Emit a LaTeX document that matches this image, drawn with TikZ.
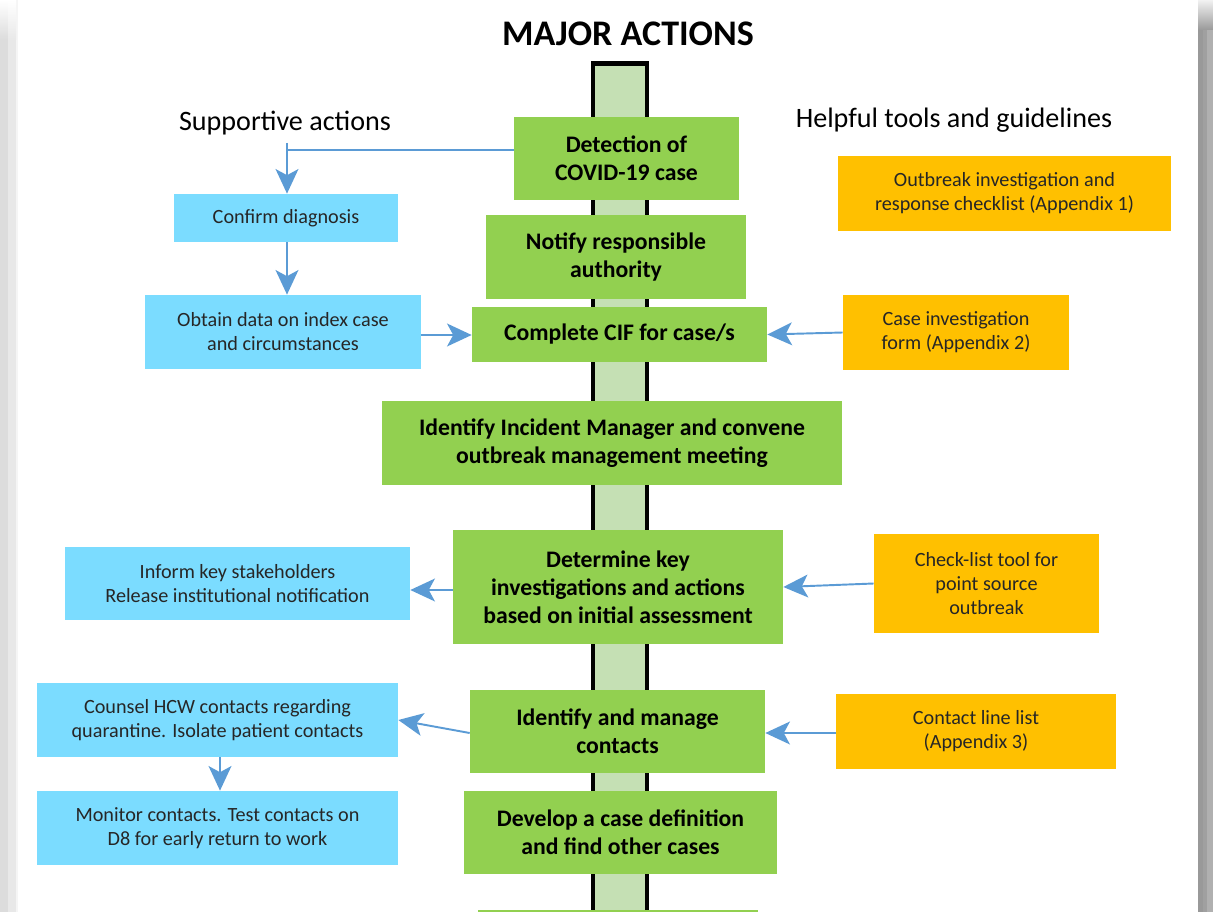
\documentclass[tikz,border=0pt]{standalone}
\usepackage{fontspec}
\setmainfont{Carlito}
\usetikzlibrary{arrows.meta,calc}
\definecolor{boxgreen}{HTML}{92D050}
\definecolor{boxblue}{HTML}{7BDCFF}
\definecolor{boxorange}{HTML}{FFC000}
\definecolor{spinefill}{HTML}{C5E0B4}
\definecolor{arrowblue}{HTML}{5B9BD5}
\definecolor{leftgray}{HTML}{DCDCDC}
\definecolor{rightgray}{HTML}{A0A0A0}
\begin{document}
\begin{tikzpicture}[x=0.02cm,y=-0.02cm,
  major/.style={fill=boxgreen, inner sep=0pt, align=center, text=black,
    font=\bfseries\fontsize{13.5}{16}\selectfont},
  support/.style={fill=boxblue, inner sep=0pt, align=center, text=black!85,
    font=\fontsize{11.5}{13.6}\selectfont},
  tool/.style={fill=boxorange, inner sep=0pt, align=center, text=black!85,
    font=\fontsize{11.5}{13.6}\selectfont},
  heading/.style={inner sep=0pt, text=black, font=\fontsize{16}{19}\selectfont},
  conn/.style={draw=arrowblue, line width=1.1pt,
    -{Stealth[length=14pt,width=13pt,inset=3.5pt]}},
  plainline/.style={draw=arrowblue, line width=1.1pt}
]
\useasboundingbox (0,0) rectangle (1213,912);
\clip (0,0) rectangle (1213,912);

% page side borders
\fill[leftgray] (0,0) rectangle (8,912);
\fill[gray!18] (8,0) rectangle (16,912);
\fill[gray!8] (16,0) rectangle (18,912);
\shade[top color=white, bottom color=leftgray] (0,0) rectangle (8,40);
\shade[top color=white, bottom color=gray!18] (8,0) rectangle (16,40);
\fill[gray!80] (1198,0) rectangle (1203,912);
\fill[rightgray] (1203,0) rectangle (1207,912);
\fill[gray!62] (1207,0) rectangle (1213,912);
\shade[top color=gray!10, bottom color=gray!80] (1198,0) rectangle (1213,30);

% spine
\fill[spinefill] (593,64) rectangle (647,912);
\draw[line width=2pt] (593,920) -- (593,64) -- (647,64) -- (647,920);
\fill[black] (591,61) rectangle (649,66.5);

% title and column headings
\node[heading, font=\bfseries\fontsize{20.5}{24}\selectfont] (title) at (628,34) {MAJOR ACTIONS};
\node[heading] (suplabel) at (285,123) {Supportive actions};
\node[heading] (toollabel) at (954,120) {Helpful tools and guidelines};

% major actions
\node[major, minimum width=4.5cm, minimum height=1.66cm] (detect) at (626.5,158.5) {Detection of\\COVID-19 case};
\node[major, minimum width=5.2cm, minimum height=1.68cm] (notify) at (616,257) {Notify responsible\\authority};
\node[major, minimum width=5.9cm, minimum height=1.1cm] (cif) at (619.5,334.5) {Complete CIF for case/s};
\node[major, minimum width=9.2cm, minimum height=1.68cm] (incident) at (612,443) {Identify Incident Manager and convene\\outbreak management meeting};
\node[major, minimum width=6.6cm, minimum height=2.28cm] (determine) at (618,587) {Determine key\\investigations and actions\\based on initial assessment};
\node[major, minimum width=5.9cm, minimum height=1.66cm] (contacts) at (617.5,731.5) {Identify and manage\\contacts};
\node[major, minimum width=6.26cm, minimum height=1.66cm] (develop) at (620.5,832.5) {Develop a case definition\\and find other cases};
\fill[boxgreen] (478,910) rectangle (758,912);

% supportive actions
\node[support, minimum width=4.48cm, minimum height=0.96cm] (confirm) at (286,218) {Confirm diagnosis};
\node[support, minimum width=5.52cm, minimum height=1.48cm] (obtain) at (283,332) {Obtain data on index case\\and circumstances};
\node[support, minimum width=6.9cm, minimum height=1.46cm] (inform) at (237.5,583.5) {Inform key stakeholders\\Release institutional notification};
\node[support, minimum width=7.22cm, minimum height=1.48cm] (counsel) at (217.5,720) {Counsel HCW contacts regarding\\quarantine. Isolate patient contacts};
\node[support, minimum width=7.22cm, minimum height=1.48cm] (monitor) at (217.5,828) {Monitor contacts. Test contacts on\\D8 for early return to work};

% tools
\node[tool, minimum width=6.66cm, minimum height=1.5cm] (checklist) at (1004.5,193.5) {Outbreak investigation and\\response checklist (Appendix 1)};
\node[tool, minimum width=4.52cm, minimum height=1.5cm] (cif form) at (956,332.5) {Case investigation\\form (Appendix 2)};
\node[tool, minimum width=4.5cm, minimum height=1.98cm] (pointsrc) at (986.5,583.5) {Check-list tool for\\point source\\outbreak};
\node[tool, minimum width=5.6cm, minimum height=1.5cm] (linelist) at (976,731.5) {Contact line list\\(Appendix 3)};

% connectors
\coordinate (bend) at (287,150);
\draw[plainline] (detect.west |- bend) -- (bend);
\draw[conn] ($(bend)+(0,-7)$) -- (confirm.north -| bend);
\draw[conn] (confirm.south -| bend) -- (obtain.north -| bend);
\draw[conn] (obtain.east |- 0,335) -- (cif.west |- 0,335);
\draw[conn] (cif form.west) -- (cif.east);
\draw[conn] (determine.west |- 0,590) -- (inform.east |- 0,590);
\draw[conn] (pointsrc.west) -- (determine.east);
\draw[conn] (contacts.west |- 0,733) -- (counsel.east);
\draw[conn] (linelist.west |- 0,733) -- (contacts.east |- 0,733);
\draw[conn] (counsel.south -| 220,0) -- (monitor.north -| 220,0);
\end{tikzpicture}
\end{document}
